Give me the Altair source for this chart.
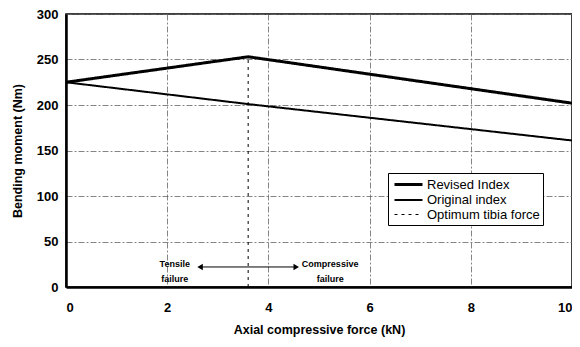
import altair as alt
import pandas as pd

# Data
force_kn = [0, 3.6, 10]
revised_index = [225, 253, 202]
original_index = [225, 201, 161]
optimum_x = [3.6, 3.6]
optimum_y = [0, 252]

series_names = ["Revised Index", "Original index", "Optimum tibia force"]

rows = []
for x, y in zip(force_kn, revised_index):
    rows.append({"x": x, "y": y, "series": series_names[0]})
for x, y in zip(force_kn, original_index):
    rows.append({"x": x, "y": y, "series": series_names[1]})
for x, y in zip(optimum_x, optimum_y):
    rows.append({"x": x, "y": y, "series": series_names[2]})
df = pd.DataFrame(rows)

arrow_y = 22
arrow_x = [2.65, 4.55]
labels_df = pd.DataFrame({
    "x": [2.15, 5.22],
    "y": [25, 25],
    "text": [["Tensile", "failure"], ["Compressive", "failure"]],
})
arrow_df = pd.DataFrame({"x": [arrow_x[0]], "x2": [arrow_x[1]], "y": [arrow_y]})
heads_df = pd.DataFrame({"x": arrow_x, "y": [arrow_y, arrow_y],
                         "shape": ["triangle-left", "triangle-right"]})

font = "Liberation Sans"
xscale = alt.Scale(domain=[0, 10], nice=False)
yscale = alt.Scale(domain=[0, 300], nice=False)

legend = alt.Legend(title=None, orient="none", legendX=322, legendY=159,
                    symbolType="M-1,0H3", symbolStrokeColor="black",
                    symbolSize=196, labelFont=font, labelFontSize=13,
                    labelColor="black", fillColor="white", strokeColor="black",
                    padding=3, rowPadding=0, labelOffset=17, symbolOffset=2)

lines = alt.Chart(df).mark_line(color="black", clip=True).encode(
    x=alt.X("x:Q", scale=xscale,
            axis=alt.Axis(title="Axial compressive force (kN)", values=[0, 2, 4, 6, 8, 10],
                          format="d", labelPadding=14, titlePadding=9)),
    y=alt.Y("y:Q", scale=yscale,
            axis=alt.Axis(title="Bending moment (Nm)", values=[0, 50, 100, 150, 200, 250, 300],
                          labelPadding=8, titlePadding=12)),
    detail="series:N",
    strokeWidth=alt.StrokeWidth("series:N",
        scale=alt.Scale(domain=series_names, range=[3, 1, 2.5]),
        legend=legend),
    strokeDash=alt.StrokeDash("series:N",
        scale=alt.Scale(domain=series_names, range=[[1, 0], [1, 0], [3, 4]]),
        legend=legend),
)

arrow = alt.Chart(arrow_df).mark_rule(color="black", strokeWidth=1).encode(
    x=alt.X("x:Q", scale=xscale), x2="x2:Q", y=alt.Y("y:Q", scale=yscale))

heads = alt.Chart(heads_df).mark_point(filled=True, color="black", size=40, opacity=1).encode(
    x=alt.X("x:Q", scale=xscale), y=alt.Y("y:Q", scale=yscale),
    shape=alt.Shape("shape:N", scale=None))

labels = alt.Chart(labels_df).mark_text(font=font, fontSize=9, fontWeight="bold",
                                        color="black", lineHeight=15, baseline="middle").encode(
    x=alt.X("x:Q", scale=xscale), y=alt.Y("y:Q", scale=yscale), text="text")

chart = alt.layer(lines, arrow, heads, labels).properties(
    width=506, height=273,
    autosize=alt.AutoSizeParams(type="none"),
    padding={"left": 58, "top": 6, "right": 0, "bottom": 60},
).configure(background="white").configure_view(
    stroke="black", strokeWidth=1.5
).configure_axis(
    grid=True, gridColor="#666", gridDash=[6, 2, 2, 2], gridWidth=0.8,
    domainColor="black", domainWidth=2.5, ticks=False,
    labelFont=font, labelFontSize=13, labelFontWeight="bold", labelColor="black",
    titleFont=font, titleFontSize=12.5, titleFontWeight="bold", titleColor="black",
)

chart.save("out.html", embed_options={"renderer": "svg", "actions": False})
